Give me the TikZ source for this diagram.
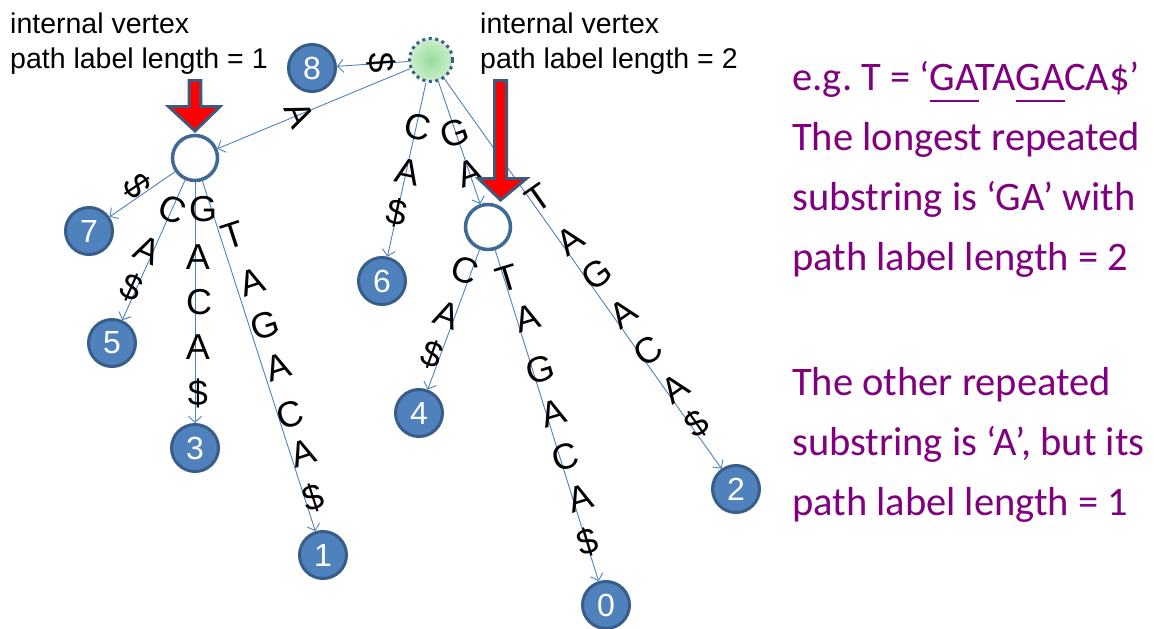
\documentclass[tikz,border=0pt]{standalone}
\usepackage{fontspec}
\setmainfont{Liberation Sans}
\newfontfamily\calfont{Carlito}
\usetikzlibrary{arrows.meta}
\definecolor{edgeblue}{RGB}{79,129,189}
\definecolor{leafborder}{RGB}{56,93,138}
\definecolor{leaffill}{RGB}{79,129,189}
\definecolor{intborder}{RGB}{65,105,150}
\definecolor{arrowborder}{RGB}{65,88,122}
\definecolor{purp}{RGB}{128,0,128}
\definecolor{rootin}{RGB}{150,220,155}
\definecolor{rootout}{RGB}{205,238,205}
\newcommand\myul[1]{\setbox0\hbox{#1}\rlap{\rule[-11.5pt]{\wd0}{2pt}}#1}
\frenchspacing
\begin{document}
\begin{tikzpicture}[x=1pt,y=-1pt,
  leaf/.style={circle,fill=leaffill,draw=leafborder,line width=3pt,minimum size=47pt,inner sep=0pt,text=white,font=\fontsize{32}{32}\selectfont},
  innernode/.style={circle,fill=white,draw=intborder,line width=3.5pt,minimum size=45pt,inner sep=0pt},
  rootnode/.style={circle,inner color=rootin,outer color=rootout,draw=leafborder,line width=3pt,dash pattern=on 3pt off 3.6pt,minimum size=43pt,inner sep=0pt},
  edge/.style={draw=edgeblue,line width=0.9pt,-{Straight Barb[length=6pt,width=13pt]}},
  lt/.style={font=\fontsize{36}{36}\selectfont,inner sep=0pt},
  note/.style={font=\fontsize{28.5}{34}\selectfont,inner sep=0pt,anchor=base west},
  purple/.style={font=\calfont\fontsize{40.5}{40}\selectfont,text=purp,inner sep=0pt,anchor=base west},
  redarrow/.style={fill=red,draw=arrowborder,line width=3pt,line join=miter}
]
\useasboundingbox (0,0) rectangle (1154,629);

% nodes
\node[rootnode] (root) at (431,60) {};
\node[innernode] (i1) at (195,158) {};
\node[innernode] (i2) at (488,227) {};
\node[leaf] (n8) at (312,68) {8};
\node[leaf] (n7) at (89,231) {7};
\node[leaf] (n5) at (112,343) {5};
\node[leaf] (n3) at (195,448) {3};
\node[leaf] (n1) at (323,555) {1};
\node[leaf] (n6) at (382,281) {6};
\node[leaf] (n4) at (419,413) {4};
\node[leaf] (n0) at (606,605) {0};
\node[leaf] (n2) at (736,489) {2};

% edges
\draw[edge] (root) -- (n8);
\draw[edge] (root) -- (i1);
\draw[edge] (root) -- (n6);
\draw[edge] (root) -- (i2);
\draw[edge] (root) -- (n2);
\draw[edge] (i1) -- (n7);
\draw[edge] (i1) -- (n5);
\draw[edge] (i1) -- (n3);
\draw[edge] (i1) -- (n1);
\draw[edge] (i2) -- (n4);
\draw[edge] (i2) -- (n0);

% edge letters
\node[lt,rotate=-86] (l8) at (381,63) {\$};
\node[lt,rotate=-67] (li1) at (300,115) {A};
\node[lt,rotate=-56] (l7) at (137,186) {\$};
\node[lt,rotate=-24] (l5a) at (172,209) {C};
\node[lt,rotate=-24] (l5b) at (148,250) {A};
\node[lt,rotate=-24] (l5c) at (132,288) {\$};
\node[lt] (l3a) at (203,209) {G};
\node[lt] (l3b) at (198,257) {A};
\node[lt] (l3c) at (199,302) {C};
\node[lt] (l3d) at (198,347) {A};
\node[lt] (l3e) at (198,393) {\$};
\node[lt,rotate=18] (l1a) at (233,235) {T};
\node[lt,rotate=18] (l1b) at (252,282) {A};
\node[lt,rotate=18] (l1c) at (265,325) {G};
\node[lt,rotate=18] (l1d) at (278,367) {A};
\node[lt,rotate=18] (l1e) at (290,415) {C};
\node[lt,rotate=18] (l1f) at (303,453) {A};
\node[lt,rotate=18] (l1g) at (313,498) {\$};
\node[lt,rotate=-12] (l6a) at (418,127) {C};
\node[lt,rotate=-12] (l6b) at (408,172) {A};
\node[lt,rotate=-12] (l6c) at (397,213) {\$};
\node[lt,rotate=19] (li2a) at (455,133) {G};
\node[lt,rotate=19] (li2b) at (470,173) {A};
\node[lt,rotate=35] (l2a) at (538,198) {T};
\node[lt,rotate=35] (l2b) at (570,240) {A};
\node[lt,rotate=35] (l2c) at (597,274) {G};
\node[lt,rotate=35] (l2d) at (623,313) {A};
\node[lt,rotate=35] (l2e) at (648,351) {C};
\node[lt,rotate=35] (l2f) at (675,388) {A};
\node[lt,rotate=35] (l2g) at (697,424) {\$};
\node[lt,rotate=-20] (l4a) at (465,270) {C};
\node[lt,rotate=-20] (l4b) at (447,315) {A};
\node[lt,rotate=-20] (l4c) at (432,355) {\$};
\node[lt,rotate=17] (l0a) at (507,278) {T};
\node[lt,rotate=17] (l0b) at (527,318) {A};
\node[lt,rotate=17] (l0c) at (540,370) {G};
\node[lt,rotate=17] (l0d) at (553,413) {A};
\node[lt,rotate=17] (l0e) at (565,457) {C};
\node[lt,rotate=17] (l0f) at (580,498) {A};
\node[lt,rotate=17] (l0g) at (588,542) {\$};

% red arrows
\draw[redarrow] (189.2,80.5) -- (200.8,80.5) -- (200.8,106.5) -- (220,106.5) -- (195,131) -- (168.5,106.5) -- (189.2,106.5) -- cycle;
\draw[redarrow] (494.5,80.5) -- (506.5,80.5) -- (506.5,178.5) -- (526.5,178.5) -- (500.5,200) -- (478.5,178.5) -- (494.5,178.5) -- cycle;

% notes
\node[note] (t1a) at (10,33) {internal vertex};
\node[note] (t1b) at (10,68) {path label length = 1};
\node[note] (t2a) at (480,33) {internal vertex};
\node[note] (t2b) at (480,68) {path label length = 2};

\node[purple] (p1) at (792,90) {e.g. T = ‘\myul{GA}TA\myul{GA}CA\$’};
\node[purple] (p2) at (792,150) {The longest repeated};
\node[purple] (p3) at (792,210) {substring is ‘GA’ with};
\node[purple] (p4) at (792,270) {path label length = 2};
\node[purple] (p5) at (792,395) {The other repeated};
\node[purple] (p6) at (792,455) {substring is ‘A’, but its};
\node[purple] (p7) at (792,515) {path label length = 1};
\end{tikzpicture}
\end{document}
